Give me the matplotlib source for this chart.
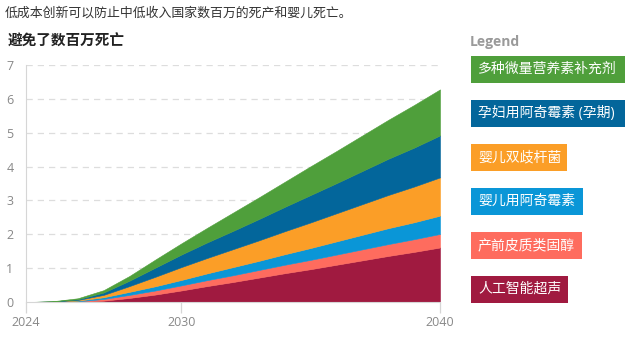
import matplotlib
matplotlib.use('Agg')
import matplotlib.pyplot as plt
from matplotlib.patches import Rectangle

plt.rcParams['font.family'] = ['Open Sans', 'Noto Sans CJK SC', 'DejaVu Sans']

# Data (millions of deaths averted, cumulative)
years = list(range(2024, 2041))
ai_ultrasound = [0, 0, 0, 0.04, 0.12, 0.22, 0.34, 0.47, 0.59, 0.72, 0.85, 0.97, 1.10, 1.23, 1.36, 1.48, 1.61]
antenatal_steroids = [0, 0.005, 0.02, 0.05, 0.09, 0.12, 0.15, 0.175, 0.20, 0.225, 0.25, 0.275, 0.30, 0.325, 0.35, 0.375, 0.40]
azithro_infant = [0, 0.005, 0.02, 0.05, 0.09, 0.125, 0.16, 0.20, 0.24, 0.27, 0.31, 0.35, 0.39, 0.43, 0.47, 0.50, 0.54]
bifido_infant = [0, 0.003, 0.02, 0.07, 0.17, 0.28, 0.38, 0.455, 0.53, 0.605, 0.68, 0.755, 0.83, 0.905, 0.98, 1.055, 1.13]
azithro_pregnant = [0, 0.003, 0.02, 0.07, 0.16, 0.27, 0.37, 0.46, 0.54, 0.63, 0.72, 0.81, 0.89, 0.98, 1.07, 1.15, 1.24]
mms = [0, 0.004, 0.03, 0.07, 0.14, 0.24, 0.33, 0.43, 0.54, 0.64, 0.74, 0.85, 0.95, 1.05, 1.15, 1.26, 1.36]

# bottom to top
series = [ai_ultrasound, antenatal_steroids, azithro_infant, bifido_infant, azithro_pregnant, mms]
labels = ['人工智能超声', '产前皮质类固醇', '婴儿用阿奇霉素', '婴儿双歧杆菌', '孕妇用阿奇霉素 (孕期)', '多种微量营养素补充剂']
colors = ['#a01a40', '#fe6c5e', '#0a96d7', '#fb9e27', '#03669b', '#4f9f3b']

xticks = [2024, 2030, 2040]
yticks = [0, 1, 2, 3, 4, 5, 6, 7]

W, H = 630, 339
fig = plt.figure(figsize=(W / 100, H / 100), dpi=100)

# main plot area in pixels: x 26..440, y 65..302
ax = fig.add_axes([26 / W, (H - 302) / H, (440 - 26) / W, (302 - 65) / H])
polys = ax.stackplot(years, series, colors=colors, zorder=2)
for p, c in zip(polys, colors):
    p.set_edgecolor(c)
    p.set_linewidth(0.4)
ax.set_xlim(2024, 2040)
ax.set_ylim(0, 7)
ax.set_xticks(xticks)
ax.set_yticks(yticks)
ax.set_xticklabels([str(x) for x in xticks])

for y in yticks[1:]:
    ax.axhline(y, color='#dddddd', linewidth=0.9, dashes=(5, 4), zorder=1)

for s in ['top', 'right']:
    ax.spines[s].set_visible(False)
ax.spines['left'].set_color('#d6d6d6')
ax.spines['bottom'].set_color('#d6d6d6')
ax.spines['bottom'].set_zorder(3)
ax.tick_params(axis='x', colors='#d6d6d6', length=8, width=0.9, labelcolor='#888888', labelsize=9, pad=2)
ax.tick_params(axis='y', length=0, labelcolor='#888888', labelsize=9, pad=9)

# overlay in pixel coords for titles and legend
ov = fig.add_axes([0, 0, 1, 1], facecolor='none')
ov.set_xlim(0, W)
ov.set_ylim(H, 0)
ov.axis('off')

ov.text(5, 13, '低成本创新可以防止中低收入国家数百万的死产和婴儿死亡。', fontsize=9.3,
        color='#333333', va='center', ha='left')
ov.text(8, 42, '避免了数百万死亡', fontsize=10.5, fontweight='bold',
        color='#222222', va='center', ha='left')

ov.text(470, 42, 'Legend', fontsize=10, fontweight='bold', color='#9a9a9a', va='center', ha='left')

box_tops = [56, 100, 144, 188, 232, 276]
box_right = [625, 625, 567, 583, 582, 568]
for i in range(6):
    k = 5 - i  # legend goes top series first
    ov.add_patch(Rectangle((471, box_tops[i]), box_right[i] - 471, 27, facecolor=colors[k], edgecolor='none'))
    ov.text(478, box_tops[i] + 13.5, labels[k], fontsize=10, color='white', va='center', ha='left')

plt.savefig('out.png', dpi=100)
